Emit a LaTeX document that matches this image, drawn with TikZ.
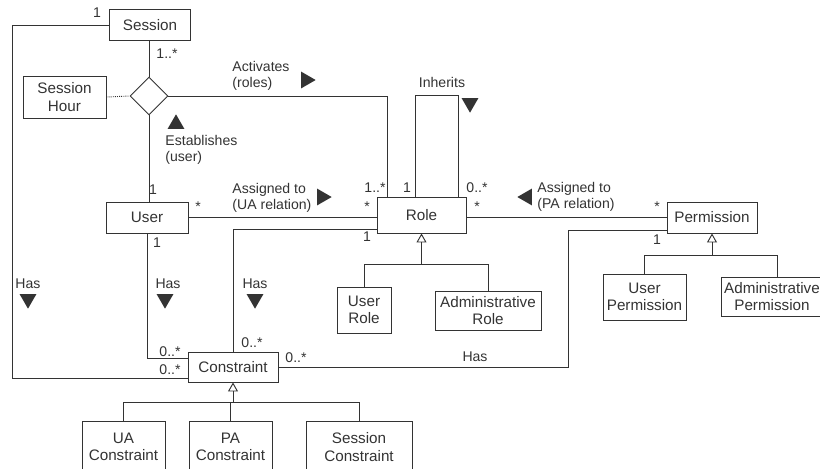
\documentclass[tikz,border=0pt]{standalone}
\usepackage{fontspec}
\setmainfont{Liberation Sans}
\usetikzlibrary{shapes.geometric, arrows.meta}

\tikzset{
  cls/.style={draw, align=center, inner sep=0pt, font=\fontsize{13}{15}\selectfont},
  lbl/.style={inner sep=0pt, align=left, font=\fontsize{12}{14}\selectfont},
  dirmark/.style={regular polygon, regular polygon sides=3, fill, inner sep=0pt, minimum size=0.58cm},
  gen/.style={-{Triangle[open,width=0.3cm,length=0.27cm]}}
}

\begin{document}
\begin{tikzpicture}[x=0.03cm, y=-0.03cm, line width=0.8pt, color=black!80]
    \useasboundingbox (0,0) rectangle (820,468);

    \node[cls, minimum width=2.43cm, minimum height=0.93cm] (session) at (150,25) {Session};
    \node[cls, minimum width=2.49cm, minimum height=1.26cm] (hour) at (64.5,97) {Session\\Hour};
    \node[diamond, draw, aspect=1, inner sep=0pt, minimum width=1.14cm, minimum height=1.14cm] (est) at (149,96) {};
    \node[cls, minimum width=2.46cm, minimum height=0.93cm] (user) at (147,217.5) {User};
    \node[cls, minimum width=2.67cm, minimum height=1.08cm] (role) at (421.5,215) {Role};
    \node[cls, minimum width=2.7cm, minimum height=0.93cm] (perm) at (712,217.5) {Permission};
    \node[cls, minimum width=1.62cm, minimum height=1.38cm] (userrole) at (364,310) {User\\Role};
    \node[cls, minimum width=3.18cm, minimum height=1.17cm] (adminrole) at (488,310.5) {Administrative\\Role};
    \node[cls, minimum width=2.49cm, minimum height=1.38cm] (userperm) at (644.5,297) {User\\Permission};
    \node[cls, minimum width=3.06cm, minimum height=1.17cm] (adminperm) at (772,296.5) {Administrative\\Permission};
    \node[cls, minimum width=2.7cm, minimum height=0.9cm] (constraint) at (233,367) {Constraint};
    \node[cls, minimum width=2.49cm, minimum height=1.56cm] (uacons) at (123.5,447) {UA\\Constraint};
    \node[cls, minimum width=2.49cm, minimum height=1.56cm] (pacons) at (230.5,447) {PA\\Constraint};
    \node[cls, minimum width=3.18cm, minimum height=1.56cm] (sesscons) at (359,447) {Session\\Constraint};

    \coordinate (sessbend) at (12,25);
    \coordinate (hasbend) at (568,367);

    \draw (session.west) -- (sessbend) |- ([yshift=-0.33cm]constraint.west);
    \draw (session.south -| est.north) -- (est.north);
    \draw[densely dotted] (hour.east) -- (est.west);
    \draw (est.east) -| ([xshift=0.33cm]role.north west);
    \draw (est.south) -- (est.south |- user.north);
    \draw ([xshift=-0.195cm]role.north) -- ++(0,-101) -- ++(43,0) -- ++(0,101);
    \draw (user.east) -- (user.east -| role.west);
    \draw ([yshift=-0.42cm]role.west) -| (constraint.north);
    \draw (user.south) |- ([yshift=0.27cm]constraint.west);
    \draw (role.east |- perm) -- (perm.west);
    \draw (constraint.east) -- (hasbend) |- ([yshift=-0.4cm]perm.west);

    \draw[gen] (userrole.north) |- ([yshift=-0.93cm]role.south) -- (role.south);
    \draw (adminrole.north) |- ([yshift=-0.93cm]role.south);
    \draw[gen] (userperm.north) |- ([yshift=-0.66cm]perm.south) -- (perm.south);
    \draw ([xshift=0.15cm]adminperm.north) |- ([yshift=-0.66cm]perm.south);
    \draw[gen] (pacons.north) |- ([yshift=-0.6cm]constraint.south) -- (constraint.south);
    \draw (uacons.north) |- ([yshift=-0.6cm]constraint.south);
    \draw (sesscons.north) |- ([yshift=-0.6cm]constraint.south);

    \node[lbl] (m1) at (97,13) {1};
    \node[lbl] (m2) at (167,54) {1..*};
    \node[lbl] (m3) at (153,190) {1};
    \node[lbl] (m4) at (198,207) {*};
    \node[lbl] (m5) at (157,243) {1};
    \node[lbl] (m6) at (375,188) {1..*};
    \node[lbl] (m7) at (407,188) {1};
    \node[lbl] (m8) at (477,188) {0..*};
    \node[lbl] (m9) at (367,207) {*};
    \node[lbl] (m10) at (477,207) {*};
    \node[lbl] (m11) at (367,237) {1};
    \node[lbl] (m12) at (657,207) {*};
    \node[lbl] (m13) at (657,240) {1};
    \node[lbl] (m14) at (170,352) {0..*};
    \node[lbl] (m15) at (170,370) {0..*};
    \node[lbl] (m16) at (252,343) {0..*};
    \node[lbl] (m17) at (296,358) {0..*};

    \node[lbl, anchor=west] (activates) at (232,76) {Activates\\(roles)};
    \node[lbl, anchor=west] (establishes) at (165,150) {Establishes\\(user)};
    \node[lbl] (inherits) at (442,82) {Inherits};
    \node[lbl, anchor=west] (uarel) at (232,198) {Assigned to\\(UA relation)};
    \node[lbl, anchor=west] (parel) at (537,197) {Assigned to\\(PA relation)};
    \node[lbl] (has1) at (28,284) {Has};
    \node[lbl] (has2) at (168,284) {Has};
    \node[lbl] (has3) at (255,284) {Has};
    \node[lbl] (has4) at (475,357) {Has};

    \node[dirmark, shape border rotate=-90] (t1) at (306,80) {};
    \node[dirmark] (t2) at (176,124) {};
    \node[dirmark, shape border rotate=180] (t3) at (470,103) {};
    \node[dirmark, shape border rotate=-90] (t4) at (322,197) {};
    \node[dirmark, shape border rotate=90] (t5) at (527,197) {};
    \node[dirmark, shape border rotate=180] (t6) at (28,299) {};
    \node[dirmark, shape border rotate=180] (t7) at (165,299) {};
    \node[dirmark, shape border rotate=180] (t8) at (255,299) {};
\end{tikzpicture}
\end{document}
